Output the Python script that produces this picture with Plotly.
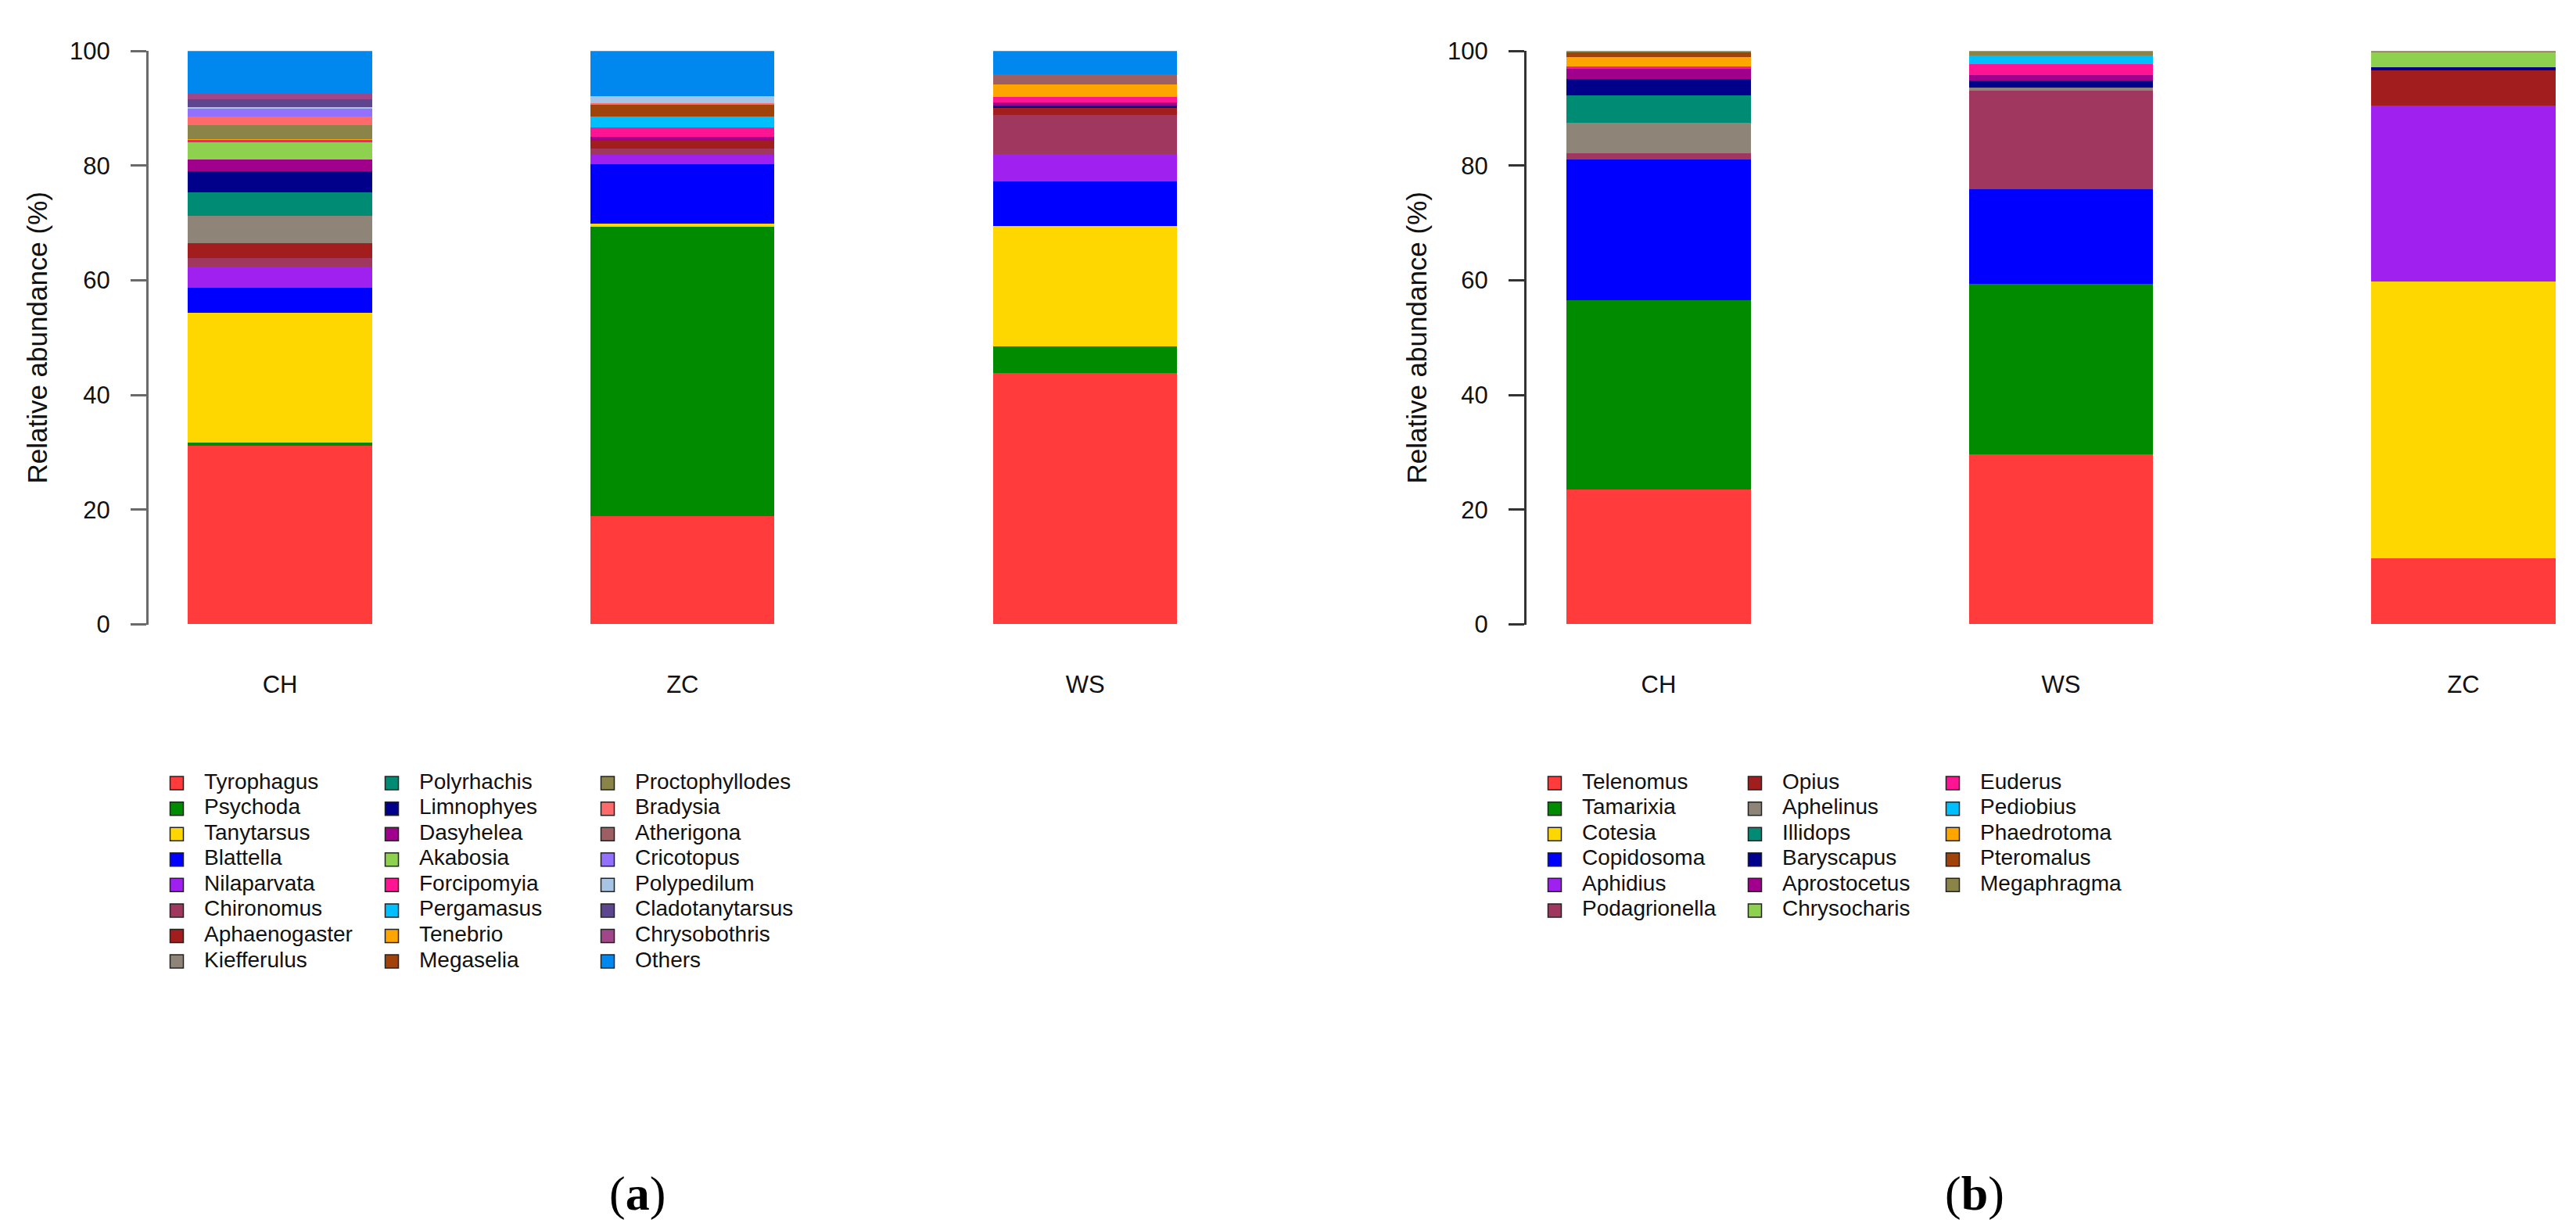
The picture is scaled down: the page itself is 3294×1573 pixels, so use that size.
import plotly.graph_objects as go

W, H = 3294, 1573
FONT = "Liberation Sans, Arial, sans-serif"
SERIF = "Liberation Serif, Times New Roman, serif"

# --- panel (a): genera, bottom of the stack first ---
sites_a = ["CH", "ZC", "WS"]
taxa_a = ["Tyrophagus", "Psychoda", "Tanytarsus", "Blattella", "Nilaparvata", "Chironomus",
          "Aphaenogaster", "Kiefferulus", "Polyrhachis", "Limnophyes", "Dasyhelea", "Akabosia",
          "Forcipomyia", "Pergamasus", "Tenebrio", "Megaselia", "Proctophyllodes", "Bradysia",
          "Atherigona", "Cricotopus", "Polypedilum", "Cladotanytarsus", "Chrysobothris", "Others"]
colors_a = ["#FF3B3B", "#008B00", "#FFD700", "#0000FF", "#A020F0", "#A0375F",
            "#A21D1D", "#8E8478", "#008B74", "#00008B", "#A0008B", "#8ED14E",
            "#FF1493", "#00BFFF", "#FFA500", "#A0430A", "#8B8448", "#FF6A6A",
            "#9E5F62", "#9470FF", "#A8C4E4", "#5E4590", "#A0468A", "#0088EE"]
ch_a = [31.2, 0.5, 22.6, 4.4, 3.7, 1.4, 2.6, 4.8, 4.1, 3.7, 2.0, 3.0,
        0.5, 0.0, 0.1, 0.0, 2.4, 1.5, 0.0, 1.5, 0.2, 1.3, 1.0, 7.5]
zc_a = [18.8, 50.5, 0.5, 10.4, 1.6, 1.1, 1.4, 0.0, 0.0, 0.0, 0.7, 0.0,
        1.7, 1.9, 0.0, 2.1, 0.0, 0.2, 0.0, 0.0, 1.2, 0.0, 0.0, 7.9]
ws_a = [43.8, 4.7, 20.9, 7.8, 4.8, 6.8, 1.2, 0.0, 0.0, 0.5, 0.5, 0.0,
        1.0, 0.0, 2.1, 0.0, 0.0, 0.0, 1.8, 0.0, 0.0, 0.0, 0.0, 4.1]

# --- panel (b) ---
sites_b = ["CH", "WS", "ZC"]
taxa_b = ["Telenomus", "Tamarixia", "Cotesia", "Copidosoma", "Aphidius", "Podagrionella",
          "Opius", "Aphelinus", "Illidops", "Baryscapus", "Aprostocetus", "Chrysocharis",
          "Euderus", "Pediobius", "Phaedrotoma", "Pteromalus", "Megaphragma"]
colors_b = ["#FF3B3B", "#008B00", "#FFD700", "#0000FF", "#A020F0", "#A0375F",
            "#A21D1D", "#8E8478", "#008B74", "#00008B", "#A0008B", "#8ED14E",
            "#FF1493", "#00BFFF", "#FFA500", "#A0430A", "#8B8448"]
ch_b = [23.5, 33.0, 0.0, 24.5, 0.0, 1.1, 0.0, 5.4, 4.7, 2.9, 1.8, 0.0,
        0.4, 0.0, 1.6, 0.9, 0.2]
ws_b = [29.7, 29.7, 0.0, 16.4, 0.0, 17.3, 0.0, 0.5, 0.0, 1.2, 1.0, 0.0,
        1.9, 1.5, 0.0, 0.0, 0.8]
zc_b = [11.5, 0.0, 48.3, 0.0, 30.7, 0.0, 6.1, 0.0, 0.0, 0.5, 0.0, 2.6,
        0.0, 0.0, 0.0, 0.0, 0.3]

y_ticks = [0, 20, 40, 60, 80, 100]


def px(x):
    return x / W


def py(y):
    return 1 - y / H


BAR_W = 0.457
fig = go.Figure()

# stacked bars
for i, name in enumerate(taxa_a):
    fig.add_trace(go.Bar(x=sites_a, y=[ch_a[i], zc_a[i], ws_a[i]], name=name,
                         marker=dict(color=colors_a[i], line=dict(width=0)),
                         width=BAR_W, showlegend=False, xaxis="x", yaxis="y"))
for i, name in enumerate(taxa_b):
    fig.add_trace(go.Bar(x=sites_b, y=[ch_b[i], ws_b[i], zc_b[i]], name=name,
                         marker=dict(color=colors_b[i], line=dict(width=0)),
                         width=BAR_W, showlegend=False, xaxis="x2", yaxis="y2"))


# R-style legend blocks (column-major, tight rows) on a pixel overlay axis
def legend_block(names, colors, col_x, rows, y0=1007, dy=33.3, gap=35):
    xs = [col_x[i // rows] for i in range(len(names))]
    ys = [y0 + (i % rows) * dy for i in range(len(names))]
    fig.add_trace(go.Scatter(x=xs, y=ys, mode="markers", showlegend=False,
                             marker=dict(symbol="square", size=17, color=colors,
                                         line=dict(color="#222222", width=1.5)),
                             xaxis="x3", yaxis="y3", hoverinfo="skip"))
    fig.add_trace(go.Scatter(x=[x + gap for x in xs], y=ys, mode="text", text=names,
                             textposition="middle right", showlegend=False,
                             textfont=dict(size=28, color="#111111", family=FONT),
                             xaxis="x3", yaxis="y3", hoverinfo="skip"))


legend_block(taxa_a, colors_a, [226, 501, 777], rows=8)
legend_block(taxa_b, colors_b, [1988, 2244, 2497], rows=6)

y_dom = [py(799.3), py(49.3)]
yax = dict(range=[0, 100], tickvals=y_ticks, ticks="outside", ticklen=20, tickwidth=3,
           showline=True, linewidth=3, showgrid=False, zeroline=False,
           tickfont=dict(size=31, color="#111111", family=FONT), ticklabelstandoff=20,
           domain=y_dom)
xax = dict(type="category", showline=False, showgrid=False, zeroline=False, ticks="",
           tickfont=dict(size=31, color="#111111", family=FONT), ticklabelstandoff=55)

fig.update_layout(
    width=W, height=H, autosize=False,
    margin=dict(l=0, r=0, t=0, b=0),
    paper_bgcolor="white", plot_bgcolor="rgba(0,0,0,0)",
    barmode="stack", bargap=0, showlegend=False,
    font=dict(family=FONT, color="#111111"),
    xaxis=dict(xax, domain=[px(190), px(1645)], range=[-0.3265, 2.5]),
    yaxis=dict(yax, anchor="x", linecolor="#6A6A6A", tickcolor="#6A6A6A"),
    xaxis2=dict(xax, domain=[px(1952), 1.0], range=[-0.3285, 2.2799], anchor="y2"),
    yaxis2=dict(yax, anchor="x2", linecolor="#333333", tickcolor="#333333"),
    xaxis3=dict(domain=[0, 1], range=[0, W], visible=False, fixedrange=True, anchor="y3"),
    yaxis3=dict(domain=[0, 1], range=[H, 0], visible=False, fixedrange=True, anchor="x3"),
    annotations=[
        dict(text="Relative abundance (%)", textangle=-90, x=px(48), y=py(424),
             xanchor="center", yanchor="middle", xref="paper", yref="paper",
             showarrow=False, font=dict(size=35, color="#111111", family=FONT)),
        dict(text="Relative abundance (%)", textangle=-90, x=px(1812), y=py(424),
             xanchor="center", yanchor="middle", xref="paper", yref="paper",
             showarrow=False, font=dict(size=35, color="#111111", family=FONT)),
        dict(text="(<b>a</b>)", x=px(815), y=py(1544), xanchor="center", yanchor="middle",
             xref="paper", yref="paper", showarrow=False,
             font=dict(size=62, color="#000000", family=SERIF)),
        dict(text="(<b>b</b>)", x=px(2525), y=py(1544), xanchor="center", yanchor="middle",
             xref="paper", yref="paper", showarrow=False,
             font=dict(size=62, color="#000000", family=SERIF)),
    ],
)

fig.write_html("out.html", config={"displayModeBar": False},
               post_script="document.body.style.margin='0';")
